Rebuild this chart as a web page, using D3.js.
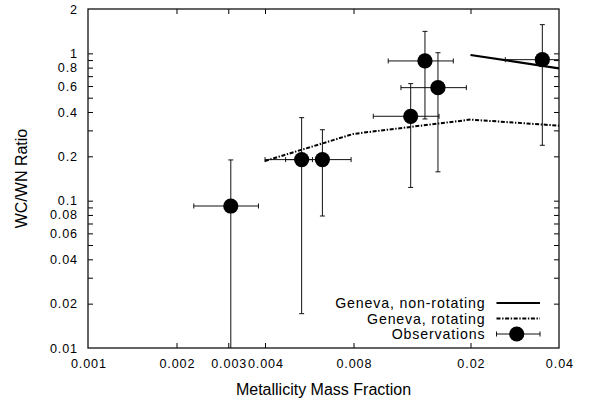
<!DOCTYPE html>
<html>
<head>
<meta charset="utf-8">
<script src="https://cdn.jsdelivr.net/npm/d3@7/dist/d3.min.js"></script>
<style>
  html, body { margin: 0; padding: 0; background: #fff; }
  svg { display: block; }
  text { font-family: "Liberation Sans", Arial, Helvetica, sans-serif; fill: #000; }
</style>
</head>
<body>
<svg id="chart" width="599" height="403"></svg>
<script>
// Geneva model tracks (metallicity Z, WC/WN ratio)
const nonRotZ = [0.02, 0.04];
const nonRotRatio = [0.975, 0.79];
const rotZ = [0.004, 0.008, 0.02, 0.04];
const rotRatio = [0.186, 0.284, 0.355, 0.323];

// Observed galaxies: Z with its range, WC/WN ratio with its range
const obsZ     = [0.00306, 0.00533, 0.00627, 0.01252, 0.0140, 0.0155, 0.0351];
const obsZLo   = [0.00229, 0.0040, 0.0047, 0.00934, 0.0105, 0.0116, 0.02627];
const obsZHi   = [0.0038, 0.0058, 0.00785, 0.01563, 0.01748, 0.01936, 0.047];
const obsRatio = [0.092, 0.19, 0.19, 0.374, 0.888, 0.585, 0.906];
const obsRLo   = [0.005, 0.0171, 0.0787, 0.123, 0.3586, 0.157, 0.2377];
const obsRHi   = [0.189, 0.366, 0.303, 0.623, 1.41, 1.01, 1.566];

// Tick values
const xTicks = [0.002, 0.003, 0.004, 0.008, 0.02];
const xLabels = [0.001, 0.002, 0.003, 0.004, 0.008, 0.02, 0.04];
const yTicks = [0.02, 0.03, 0.04, 0.05, 0.06, 0.07, 0.08, 0.09,
                0.1, 0.2, 0.3, 0.4, 0.5, 0.6, 0.7, 0.8, 0.9, 1];
const yLabels = [0.01, 0.02, 0.04, 0.06, 0.08, 0.1, 0.2, 0.4, 0.6, 0.8, 1, 2];

const legendNames = ["Geneva, non-rotating", "Geneva, rotating", "Observations"];

const W = 599, H = 403;
const margin = { left: 88, right: 40, top: 9, bottom: 55 };
const svg = d3.select("#chart");

const x = d3.scaleLog().domain([0.001, 0.04]).range([margin.left, W - margin.right]);
const y = d3.scaleLog().domain([0.01, 2]).range([H - margin.bottom, margin.top]);

const [x0, x1] = x.range();
const [y0, y1] = y.range();

svg.append("defs").append("clipPath").attr("id", "plot-clip")
  .append("rect").attr("x", x0).attr("y", y1).attr("width", x1 - x0).attr("height", y0 - y1);

const fmt = d => String(+d.toPrecision(3));

// Bottom axis: inward ticks, labels at listed values
const axBottom = svg.append("g").attr("transform", `translate(0,${y0})`)
  .call(d3.axisBottom(x).tickValues(xTicks).tickSizeInner(-5).tickSizeOuter(0).tickFormat(""));
axBottom.select(".domain").remove();
const axBottomLabels = svg.append("g").attr("transform", `translate(0,${y0})`)
  .call(d3.axisBottom(x).tickValues(xLabels).tickSize(0).tickPadding(11.5).tickFormat(fmt));
axBottomLabels.select(".domain").remove();
axBottomLabels.selectAll(".tick text").attr("dx", "0.4");

// Top axis (ticks only)
const axTop = svg.append("g").attr("transform", `translate(0,${y1})`)
  .call(d3.axisTop(x).tickValues(xTicks).tickSizeInner(-5).tickSizeOuter(0).tickFormat(""));
axTop.select(".domain").remove();

// Left axis
const axLeft = svg.append("g").attr("transform", `translate(${x0},0)`)
  .call(d3.axisLeft(y).tickValues(yTicks).tickSizeInner(-5).tickSizeOuter(0).tickFormat(""));
axLeft.select(".domain").remove();
const axLeftLabels = svg.append("g").attr("transform", `translate(${x0},0)`)
  .call(d3.axisLeft(y).tickValues(yLabels).tickSize(0).tickPadding(10).tickFormat(fmt));
axLeftLabels.select(".domain").remove();

// Right axis (ticks only)
const axRight = svg.append("g").attr("transform", `translate(${x1},0)`)
  .call(d3.axisRight(y).tickValues(yTicks).tickSizeInner(-5).tickSizeOuter(0).tickFormat(""));
axRight.select(".domain").remove();

svg.selectAll(".tick line").attr("stroke", "#000").attr("stroke-width", 1);
svg.selectAll(".tick text").attr("font-size", 12.6).attr("letter-spacing", "0.9")
  .attr("font-family", "Liberation Sans, Arial, sans-serif").attr("fill", "#000");

// Frame
svg.append("rect")
  .attr("x", x0).attr("y", y1).attr("width", x1 - x0).attr("height", y0 - y1)
  .attr("fill", "none").attr("stroke", "#111").attr("stroke-width", 1.3);

// Axis titles
svg.append("text")
  .attr("x", (x0 + x1) / 2).attr("y", 394.5)
  .attr("text-anchor", "middle").attr("font-size", 16)
  .text("Metallicity Mass Fraction");
svg.append("text")
  .attr("transform", `translate(27,${(y0 + y1) / 2}) rotate(-90)`)
  .attr("text-anchor", "middle").attr("font-size", 16)
  .text("WC/WN Ratio");

const plot = svg.append("g").attr("clip-path", "url(#plot-clip)");

const line = d3.line().x(d => x(d[0])).y(d => y(d[1]));
const dashRot = "4,1.6,1.4,1.6";

// Model tracks
plot.append("path")
  .datum(d3.zip(nonRotZ, nonRotRatio))
  .attr("d", line).attr("fill", "none").attr("stroke", "#000").attr("stroke-width", 2.2);
plot.append("path")
  .datum(d3.zip(rotZ, rotRatio))
  .attr("d", line).attr("fill", "none").attr("stroke", "#000").attr("stroke-width", 2)
  .attr("stroke-dasharray", dashRot);

// Observations with error bars
const obs = obsZ.map((z, i) => ({
  z, zlo: obsZLo[i], zhi: obsZHi[i], r: obsRatio[i], rlo: obsRLo[i], rhi: obsRHi[i]
}));
const cap = 2.5;
const eb = plot.append("g").attr("stroke", "#111").attr("stroke-width", 1).attr("fill", "none");
obs.forEach(d => {
  const cx = x(d.z), cy = y(d.r);
  const xl = x(d.zlo), xr = x(d.zhi), yt = y(d.rhi), yb = y(d.rlo);
  eb.append("line").attr("x1", xl).attr("x2", xr).attr("y1", cy).attr("y2", cy);
  eb.append("line").attr("x1", xl).attr("x2", xl).attr("y1", cy - cap).attr("y2", cy + cap);
  eb.append("line").attr("x1", xr).attr("x2", xr).attr("y1", cy - cap).attr("y2", cy + cap);
  eb.append("line").attr("x1", cx).attr("x2", cx).attr("y1", yt).attr("y2", yb);
  eb.append("line").attr("x1", cx - cap).attr("x2", cx + cap).attr("y1", yt).attr("y2", yt);
  eb.append("line").attr("x1", cx - cap).attr("x2", cx + cap).attr("y1", yb).attr("y2", yb);
});
plot.append("g").selectAll("circle").data(obs).join("circle")
  .attr("cx", d => x(d.z)).attr("cy", d => y(d.r)).attr("r", 7.6).attr("fill", "#000");

// Legend
const legend = svg.append("g");
const rowY = [303, 318.5, 334];
const textRight = 485, sx0 = 496.5, sx1 = 540;
legendNames.forEach((name, i) => {
  legend.append("text")
    .attr("x", textRight + 0.5).attr("y", rowY[i]).attr("dy", "0.36em")
    .attr("text-anchor", "end").attr("font-size", 14.2).attr("letter-spacing", "0.85")
    .text(name);
});
legend.append("line").attr("x1", sx0).attr("x2", sx1).attr("y1", rowY[0]).attr("y2", rowY[0])
  .attr("stroke", "#000").attr("stroke-width", 2.2);
legend.append("line").attr("x1", sx0).attr("x2", sx1).attr("y1", rowY[1]).attr("y2", rowY[1])
  .attr("stroke", "#000").attr("stroke-width", 2).attr("stroke-dasharray", dashRot);
const lo = legend.append("g").attr("stroke", "#111").attr("stroke-width", 1);
lo.append("line").attr("x1", sx0).attr("x2", sx1).attr("y1", rowY[2]).attr("y2", rowY[2]);
lo.append("line").attr("x1", sx0).attr("x2", sx0).attr("y1", rowY[2] - cap).attr("y2", rowY[2] + cap);
lo.append("line").attr("x1", sx1).attr("x2", sx1).attr("y1", rowY[2] - cap).attr("y2", rowY[2] + cap);
legend.append("circle").attr("cx", (sx0 + sx1) / 2 - 1.5).attr("cy", rowY[2]).attr("r", 7.6).attr("fill", "#000");
</script>
</body>
</html>
